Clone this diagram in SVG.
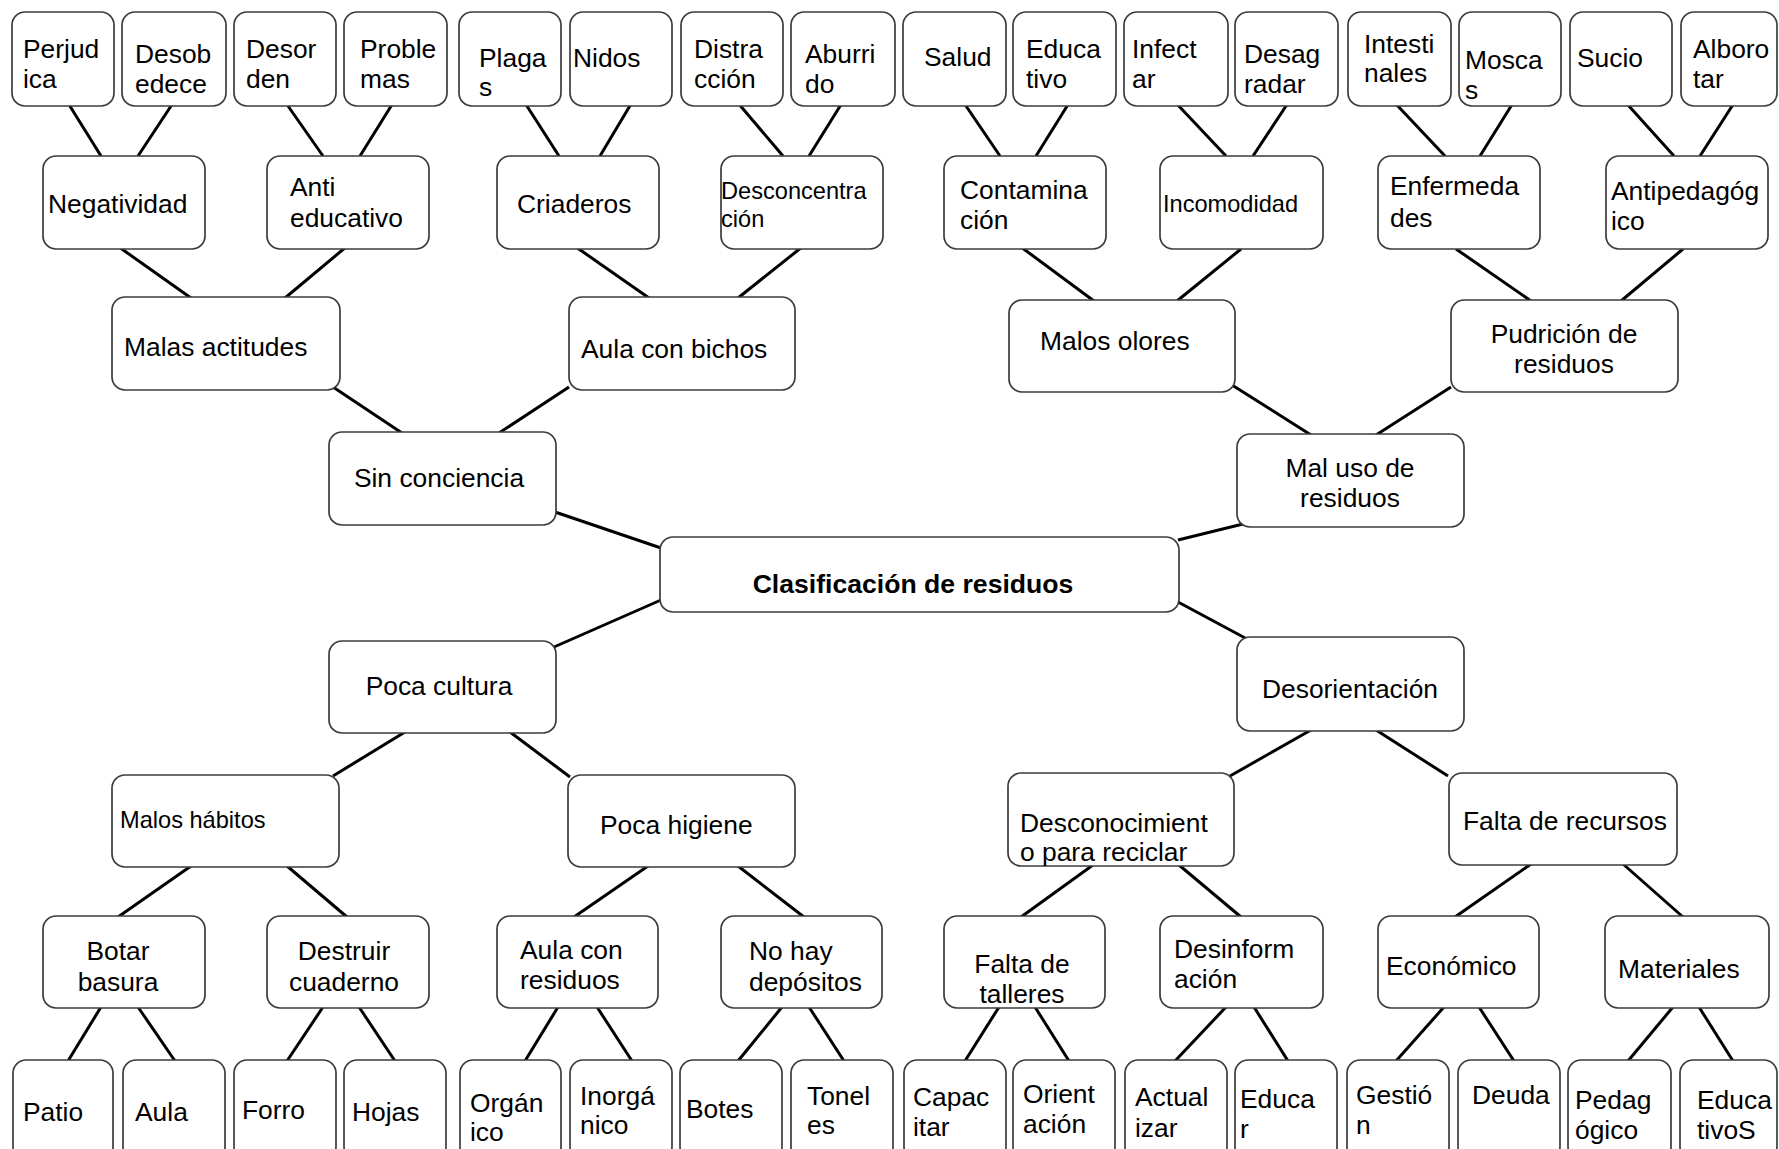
<svg xmlns="http://www.w3.org/2000/svg" width="1779" height="1149" viewBox="0 0 1779 1149">
<style>
rect{fill:#fff;stroke:#3c3c3c;stroke-width:1.7}
text{font-family:"Liberation Sans",Arial,sans-serif;font-size:26.4px;fill:#000}
.s{font-size:23.6px}
.b{font-weight:bold;font-size:26.6px}
.c{text-anchor:middle}
#connectors line{stroke:#000;stroke-width:3}
</style>
<rect x="0" y="0" width="1779" height="1149" style="fill:#fff;stroke:none"/>
<g id="connectors">
<line x1="68" y1="103" x2="101" y2="156"/>
<line x1="173" y1="103" x2="138" y2="156"/>
<line x1="288" y1="106" x2="323" y2="156"/>
<line x1="393" y1="103" x2="360" y2="156"/>
<line x1="525" y1="103" x2="559" y2="156"/>
<line x1="631" y1="104" x2="600" y2="156"/>
<line x1="738" y1="103" x2="783" y2="156"/>
<line x1="842" y1="103" x2="809" y2="156"/>
<line x1="964" y1="103" x2="1000" y2="156"/>
<line x1="1069" y1="103" x2="1036" y2="156"/>
<line x1="1176" y1="103" x2="1226" y2="156"/>
<line x1="1288" y1="103" x2="1253" y2="156"/>
<line x1="1395" y1="103" x2="1445" y2="156"/>
<line x1="1513" y1="103" x2="1480" y2="156"/>
<line x1="1628" y1="105" x2="1674" y2="156"/>
<line x1="1734" y1="103" x2="1700" y2="156"/>
<line x1="119" y1="247" x2="191" y2="298"/>
<line x1="346" y1="247" x2="285" y2="298"/>
<line x1="576" y1="247" x2="649" y2="298"/>
<line x1="802" y1="247" x2="738" y2="298"/>
<line x1="1021" y1="247" x2="1094" y2="301"/>
<line x1="1241" y1="249" x2="1177" y2="301"/>
<line x1="1456" y1="249" x2="1531" y2="301"/>
<line x1="1683" y1="249" x2="1621" y2="301"/>
<line x1="333" y1="387" x2="402" y2="433"/>
<line x1="569" y1="387" x2="499" y2="433"/>
<line x1="1232" y1="385" x2="1311" y2="435"/>
<line x1="1451" y1="387" x2="1376" y2="435"/>
<line x1="555" y1="512" x2="661" y2="548"/>
<line x1="1178" y1="540" x2="1243" y2="524"/>
<line x1="554" y1="647" x2="661" y2="600"/>
<line x1="1178" y1="602" x2="1247" y2="639"/>
<line x1="405" y1="732" x2="333" y2="776"/>
<line x1="510" y1="732" x2="570" y2="777"/>
<line x1="1311" y1="730" x2="1230" y2="776"/>
<line x1="1376" y1="730" x2="1448" y2="776"/>
<line x1="191" y1="866" x2="118" y2="917"/>
<line x1="287" y1="866" x2="347" y2="917"/>
<line x1="648" y1="866" x2="574" y2="917"/>
<line x1="738" y1="866" x2="804" y2="917"/>
<line x1="1093" y1="865" x2="1021" y2="917"/>
<line x1="1179" y1="865" x2="1241" y2="917"/>
<line x1="1531" y1="864" x2="1455" y2="917"/>
<line x1="1623" y1="864" x2="1683" y2="917"/>
<line x1="101" y1="1007" x2="68" y2="1061"/>
<line x1="138" y1="1007" x2="175" y2="1061"/>
<line x1="323" y1="1007" x2="287" y2="1061"/>
<line x1="359" y1="1007" x2="395" y2="1061"/>
<line x1="558" y1="1007" x2="525" y2="1061"/>
<line x1="597" y1="1007" x2="632" y2="1061"/>
<line x1="782" y1="1007" x2="738" y2="1061"/>
<line x1="809" y1="1007" x2="844" y2="1061"/>
<line x1="999" y1="1007" x2="965" y2="1061"/>
<line x1="1035" y1="1007" x2="1069" y2="1061"/>
<line x1="1226" y1="1007" x2="1175" y2="1061"/>
<line x1="1254" y1="1007" x2="1288" y2="1061"/>
<line x1="1444" y1="1007" x2="1396" y2="1061"/>
<line x1="1479" y1="1007" x2="1514" y2="1061"/>
<line x1="1673" y1="1007" x2="1628" y2="1061"/>
<line x1="1699" y1="1007" x2="1733" y2="1061"/>
</g>

<!-- top leaf row -->
<g id="n_perjudica"><rect x="12" y="12" width="102" height="94" rx="13"/><text x="23" y="58">Perjud</text><text x="23" y="88">ica</text></g>
<g id="n_desobedece"><rect x="122" y="12" width="104" height="94" rx="13"/><text x="135" y="63">Desob</text><text x="135" y="93">edece</text></g>
<g id="n_desorden"><rect x="234" y="12" width="102" height="94" rx="13"/><text x="246" y="58">Desor</text><text x="246" y="88">den</text></g>
<g id="n_problemas"><rect x="344" y="12" width="103" height="94" rx="13"/><text x="360" y="58">Proble</text><text x="360" y="88">mas</text></g>
<g id="n_plagas"><rect x="459" y="12" width="102" height="94" rx="13"/><text x="479" y="67">Plaga</text><text x="479" y="96">s</text></g>
<g id="n_nidos"><rect x="570" y="12" width="102" height="94" rx="13"/><text x="573" y="67">Nidos</text></g>
<g id="n_distraccion"><rect x="681" y="12" width="102" height="94" rx="13"/><text x="694" y="58">Distra</text><text x="694" y="88">cción</text></g>
<g id="n_aburrido"><rect x="791" y="12" width="104" height="94" rx="13"/><text x="805" y="63">Aburri</text><text x="805" y="93">do</text></g>
<g id="n_salud"><rect x="903" y="12" width="103" height="94" rx="13"/><text x="924" y="66">Salud</text></g>
<g id="n_educativo"><rect x="1013" y="12" width="103" height="94" rx="13"/><text x="1026" y="58">Educa</text><text x="1026" y="88">tivo</text></g>
<g id="n_infectar"><rect x="1124" y="12" width="104" height="94" rx="13"/><text x="1132" y="58">Infect</text><text x="1132" y="88">ar</text></g>
<g id="n_desagradar"><rect x="1235" y="12" width="103" height="94" rx="13"/><text x="1244" y="63">Desag</text><text x="1244" y="93">radar</text></g>
<g id="n_intestinales"><rect x="1348" y="12" width="103" height="94" rx="13"/><text x="1364" y="53">Intesti</text><text x="1364" y="82">nales</text></g>
<g id="n_moscas"><rect x="1459" y="12" width="102" height="94" rx="13"/><text x="1465" y="69">Mosca</text><text x="1465" y="99">s</text></g>
<g id="n_sucio"><rect x="1570" y="12" width="102" height="94" rx="13"/><text x="1577" y="67">Sucio</text></g>
<g id="n_alborotar"><rect x="1681" y="12" width="96" height="94" rx="13"/><text x="1693" y="58">Alboro</text><text x="1693" y="88">tar</text></g>

<!-- second row -->
<g id="n_negatividad"><rect x="43" y="156" width="162" height="93" rx="13"/><text x="48" y="213">Negatividad</text></g>
<g id="n_antieducativo"><rect x="267" y="156" width="162" height="93" rx="13"/><text x="290" y="196">Anti</text><text x="290" y="227">educativo</text></g>
<g id="n_criaderos"><rect x="497" y="156" width="162" height="93" rx="13"/><text x="517" y="213">Criaderos</text></g>
<g id="n_desconcentracion"><rect x="721" y="156" width="162" height="93" rx="13"/><text class="s" x="721" y="199">Desconcentra</text><text class="s" x="721" y="227">ción</text></g>
<g id="n_contaminacion"><rect x="944" y="156" width="162" height="93" rx="13"/><text x="960" y="199">Contamina</text><text x="960" y="229">ción</text></g>
<g id="n_incomodidad"><rect x="1160" y="156" width="163" height="93" rx="13"/><text class="s" x="1163" y="212">Incomodidad</text></g>
<g id="n_enfermedades"><rect x="1378" y="156" width="162" height="93" rx="13"/><text x="1390" y="195">Enfermeda</text><text x="1390" y="227">des</text></g>
<g id="n_antipedagogico"><rect x="1606" y="156" width="162" height="93" rx="13"/><text x="1611" y="200">Antipedagóg</text><text x="1611" y="230">ico</text></g>

<!-- third row -->
<g id="n_malas_actitudes"><rect x="112" y="297" width="228" height="93" rx="13"/><text x="124" y="356">Malas actitudes</text></g>
<g id="n_aula_bichos"><rect x="569" y="297" width="226" height="93" rx="13"/><text x="581" y="358">Aula con bichos</text></g>
<g id="n_malos_olores"><rect x="1009" y="300" width="226" height="92" rx="13"/><text x="1040" y="350">Malos olores</text></g>
<g id="n_pudricion"><rect x="1451" y="300" width="227" height="92" rx="13"/><text class="c" x="1564" y="343">Pudrición de</text><text class="c" x="1564" y="373">residuos</text></g>

<!-- fourth row -->
<g id="n_sin_conciencia"><rect x="329" y="432" width="227" height="93" rx="13"/><text class="c" x="439" y="487">Sin conciencia</text></g>
<g id="n_mal_uso"><rect x="1237" y="434" width="227" height="93" rx="13"/><text class="c" x="1350" y="477">Mal uso de</text><text class="c" x="1350" y="507">residuos</text></g>

<!-- center -->
<g id="n_clasificacion"><rect x="660" y="537" width="519" height="75" rx="13"/><text class="b c" x="913" y="593">Clasificación de residuos</text></g>

<g id="n_poca_cultura"><rect x="329" y="641" width="227" height="92" rx="13"/><text class="c" x="439" y="695">Poca cultura</text></g>
<g id="n_desorientacion"><rect x="1237" y="637" width="227" height="94" rx="13"/><text class="c" x="1350" y="698">Desorientación</text></g>

<!-- fifth row -->
<g id="n_malos_habitos"><rect x="112" y="775" width="227" height="92" rx="13"/><text class="s" x="120" y="828">Malos hábitos</text></g>
<g id="n_poca_higiene"><rect x="568" y="775" width="227" height="92" rx="13"/><text x="600" y="834">Poca higiene</text></g>
<g id="n_desconocimiento"><rect x="1008" y="773" width="226" height="93" rx="13"/><text x="1020" y="832">Desconocimient</text><text x="1020" y="861">o para reciclar</text></g>
<g id="n_falta_recursos"><rect x="1449" y="773" width="228" height="92" rx="13"/><text x="1463" y="830">Falta de recursos</text></g>

<!-- sixth row -->
<g id="n_botar_basura"><rect x="43" y="916" width="162" height="92" rx="13"/><text class="c" x="118" y="960">Botar</text><text class="c" x="118" y="991">basura</text></g>
<g id="n_destruir"><rect x="267" y="916" width="162" height="92" rx="13"/><text class="c" x="344" y="960">Destruir</text><text class="c" x="344" y="991">cuaderno</text></g>
<g id="n_aula_residuos"><rect x="497" y="916" width="161" height="92" rx="13"/><text x="520" y="959">Aula con</text><text x="520" y="989">residuos</text></g>
<g id="n_no_hay"><rect x="721" y="916" width="161" height="92" rx="13"/><text x="749" y="960">No hay</text><text x="749" y="991">depósitos</text></g>
<g id="n_falta_talleres"><rect x="944" y="916" width="161" height="92" rx="13"/><text class="c" x="1022" y="973">Falta de</text><text class="c" x="1022" y="1003">talleres</text></g>
<g id="n_desinformacion"><rect x="1160" y="916" width="163" height="92" rx="13"/><text x="1174" y="958">Desinform</text><text x="1174" y="988">ación</text></g>
<g id="n_economico"><rect x="1378" y="916" width="161" height="92" rx="13"/><text x="1386" y="975">Económico</text></g>
<g id="n_materiales"><rect x="1605" y="916" width="164" height="92" rx="13"/><text x="1618" y="978">Materiales</text></g>

<!-- bottom leaf row -->
<g id="n_patio"><rect x="13" y="1060" width="100" height="100" rx="13"/><text x="23" y="1121">Patio</text></g>
<g id="n_aula"><rect x="123" y="1060" width="102" height="100" rx="13"/><text x="135" y="1121">Aula</text></g>
<g id="n_forro"><rect x="234" y="1060" width="102" height="100" rx="13"/><text x="242" y="1119">Forro</text></g>
<g id="n_hojas"><rect x="344" y="1060" width="102" height="100" rx="13"/><text x="352" y="1121">Hojas</text></g>
<g id="n_organico"><rect x="460" y="1060" width="101" height="100" rx="13"/><text x="470" y="1112">Orgán</text><text x="470" y="1141">ico</text></g>
<g id="n_inorganico"><rect x="570" y="1060" width="102" height="100" rx="13"/><text x="580" y="1105">Inorgá</text><text x="580" y="1134">nico</text></g>
<g id="n_botes"><rect x="680" y="1060" width="102" height="100" rx="13"/><text x="686" y="1118">Botes</text></g>
<g id="n_toneles"><rect x="791" y="1060" width="102" height="100" rx="13"/><text x="807" y="1105">Tonel</text><text x="807" y="1134">es</text></g>
<g id="n_capacitar"><rect x="904" y="1060" width="102" height="100" rx="13"/><text x="913" y="1106">Capac</text><text x="913" y="1136">itar</text></g>
<g id="n_orientacion"><rect x="1013" y="1060" width="102" height="100" rx="13"/><text x="1023" y="1103">Orient</text><text x="1023" y="1133">ación</text></g>
<g id="n_actualizar"><rect x="1125" y="1060" width="102" height="100" rx="13"/><text x="1135" y="1106">Actual</text><text x="1135" y="1137">izar</text></g>
<g id="n_educar"><rect x="1235" y="1060" width="102" height="100" rx="13"/><text x="1240" y="1108">Educa</text><text x="1240" y="1138">r</text></g>
<g id="n_gestion"><rect x="1347" y="1060" width="102" height="100" rx="13"/><text x="1356" y="1104">Gestió</text><text x="1356" y="1134">n</text></g>
<g id="n_deuda"><rect x="1458" y="1060" width="102" height="100" rx="13"/><text x="1472" y="1104">Deuda</text></g>
<g id="n_pedagogico"><rect x="1568" y="1060" width="103" height="100" rx="13"/><text x="1575" y="1109">Pedag</text><text x="1575" y="1139">ógico</text></g>
<g id="n_educativos"><rect x="1680" y="1060" width="97" height="100" rx="13"/><text x="1697" y="1109">Educa</text><text x="1697" y="1139">tivoS</text></g>
</svg>
